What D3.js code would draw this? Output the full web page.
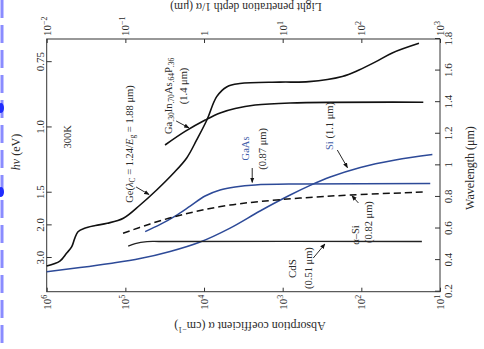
<!DOCTYPE html>
<html>
<head>
<meta charset="utf-8">
<script src="https://cdn.jsdelivr.net/npm/d3@7"></script>
<style>
  body { margin: 0; background: #fff; }
  text { font-family: "Liberation Serif", "DejaVu Serif", serif; fill: #2a2a2a; }
</style>
</head>
<body>
<svg id="chart" width="484" height="349"></svg>
<script>
// wavelength (um) / absorption coefficient (cm^-1)
const geLambda = [0.363, 0.394, 0.443, 0.485, 0.538, 0.580, 0.602, 0.619, 0.633, 0.665, 0.749, 0.844, 0.950, 1.047, 1.161, 1.287, 1.435, 1.498, 1.518, 1.527, 1.530, 1.563, 1.604, 1.655, 1.712, 1.773];
const geAlpha = [1e6, 6.8e5, 5.6e5, 4.8e5, 4.4e5, 4.0e5, 3.3e5, 2.4e5, 1.7e5, 1.06e5, 6.5e4, 4.0e4, 2.45e4, 1.66e4, 1.24e4, 9.2e3, 6.9e3, 5.1e3, 3.5e3, 1.1e3, 465, 175, 107, 66, 40.5, 18.5];

const ingaaspLambda = [1.129, 1.215, 1.287, 1.332, 1.360, 1.382, 1.395, 1.400];
const ingaaspAlpha = [3.13e4, 1.74e4, 9.66e3, 6.24e3, 4.02e3, 2.24e3, 804, 16.3];

const gaasLambda = [0.580, 0.626, 0.679, 0.742, 0.806, 0.844, 0.863, 0.876, 0.882, 0.885];
const gaasAlpha = [5.6e4, 3.6e4, 2.33e4, 1.5e4, 9.7e3, 6.25e3, 4.03e3, 2.24e3, 600, 13.3];

const siLambda = [0.327, 0.353, 0.379, 0.410, 0.455, 0.515, 0.603, 0.711, 0.812, 0.873, 0.926, 0.987, 1.034, 1.069];
const siAlpha = [1e6, 3.77e5, 1.57e5, 6.5e4, 2.7e4, 1.12e4, 4.66e3, 1.94e3, 804, 447, 249, 103, 37, 12.5];

const asiLambda = [0.570, 0.629, 0.676, 0.714, 0.749, 0.771, 0.793, 0.812, 0.831];
const asiAlpha = [1.07e5, 4.85e4, 2.33e4, 1.12e4, 4.66e3, 1.94e3, 600, 139, 16.3];

const cdsLambda = [0.489, 0.505, 0.517, 0.518, 0.518];
const cdsAlpha = [9.2e4, 7.5e4, 5.3e4, 3.6e4, 17];

const wavelengthTicks = [0.2, 0.4, 0.6, 0.8, 1.0, 1.2, 1.4, 1.6, 1.8];
const energyTicks = [0.75, 1.0, 1.5, 2.0, 3.0];
const energyLabels = ['0.75', '1.0', '1.5', '2.0', '3.0'];
const alphaTicks = [1e6, 1e5, 1e4, 1e3, 1e2, 1e1];
const depthTicks = [1e-2, 1e-1, 1, 1e1, 1e2, 1e3];

const BLUE = '#2d4a98';
const svg = d3.select('#chart');

// odd blue dashed strip along the left border of the scan
svg.append('line').attr('x1', 2).attr('x2', 2).attr('y1', 0).attr('y2', 349)
  .attr('stroke', '#8a8cff').attr('stroke-width', 3).attr('stroke-dasharray', '18 7');
[108, 192].forEach(cy => svg.append('ellipse').attr('cx', 1).attr('cy', cy)
  .attr('rx', 3).attr('ry', 5).attr('fill', '#1f2cff'));

// the figure is drawn upright (wavelength across, alpha up) and then turned a quarter anticlockwise
const left = 46.7, bottom = 291.7;
const W = 252.7, H = 393.3;
const g = svg.append('g').attr('transform', `translate(${left},${bottom}) rotate(-90)`);

const x = d3.scaleLinear().domain([0.2, 1.8]).range([0, W]);
const y = d3.scaleLog().domain([10, 1e6]).range([H, 0]);
const yDepth = d3.scaleLog().domain([1e-2, 1e3]).range([0, H]);

svg.append('defs').append('marker')
  .attr('id', 'head').attr('viewBox', '0 0 10 10').attr('refX', 9).attr('refY', 5)
  .attr('markerWidth', 6).attr('markerHeight', 6).attr('orient', 'auto')
  .append('path').attr('d', 'M0,1 L10,5 L0,9 Z').attr('fill', '#111');

function powerLabels(sel) {
  sel.selectAll('.tick text').each(function (d) {
    const t = d3.select(this);
    const e = Math.round(Math.log10(d));
    t.text(null);
    if (e === 0) { t.text('1'); return; }
    t.append('tspan').text('10');
    t.append('tspan').attr('dy', -4).attr('font-size', 8).text(e < 0 ? '\u2212' + (-e) : e);
  });
}

function styleAxis(sel) {
  sel.attr('font-size', 11).attr('font-family', null).attr('color', '#333');
  sel.select('.domain').remove();
}

g.append('g').attr('transform', `translate(0,${H})`)
  .call(d3.axisBottom(x).tickValues(wavelengthTicks).tickSizeInner(-5).tickSizeOuter(0).tickPadding(4)
    .tickFormat(d => d === 1 ? '1' : d.toFixed(1)))
  .call(styleAxis);

// photon energy hv = 1.24 / wavelength
g.append('g')
  .call(d3.axisTop(x).tickValues(energyTicks.map(e => 1.24 / e)).tickSizeInner(-5).tickSizeOuter(0).tickPadding(3)
    .tickFormat((d, i) => energyLabels[i]))
  .call(styleAxis);

g.append('g')
  .call(d3.axisLeft(y).tickValues(alphaTicks).tickSizeInner(-4).tickSizeOuter(0).tickPadding(3))
  .call(styleAxis).call(powerLabels);

g.append('g').attr('transform', `translate(${W},0)`)
  .call(d3.axisRight(yDepth).tickValues(depthTicks).tickSizeInner(-4).tickSizeOuter(0).tickPadding(3))
  .call(styleAxis).call(powerLabels);

g.append('rect').attr('width', W).attr('height', H)
  .attr('fill', 'none').attr('stroke', '#333').attr('stroke-width', 1);

// curves
const line = d3.line().x(d => x(d[0])).y(d => y(d[1])).curve(d3.curveCatmullRom.alpha(0.5));
const curves = [
  { l: geLambda, a: geAlpha, color: '#111', w: 1.6 },
  { l: ingaaspLambda, a: ingaaspAlpha, color: '#111', w: 1.6 },
  { l: gaasLambda, a: gaasAlpha, color: BLUE, w: 1.5 },
  { l: siLambda, a: siAlpha, color: BLUE, w: 1.5 },
  { l: asiLambda, a: asiAlpha, color: '#111', w: 1.5, dash: '7 4' },
  { l: cdsLambda, a: cdsAlpha, color: '#222', w: 1.3 }
];
g.selectAll('path.curve').data(curves).join('path')
  .attr('class', 'curve')
  .attr('d', c => line(c.l.map((v, i) => [v, c.a[i]])))
  .attr('fill', 'none')
  .attr('stroke', c => c.color)
  .attr('stroke-width', c => c.w)
  .attr('stroke-dasharray', c => c.dash || null);

// labels: parts are [text, 'sub' | 'sup' | 'i' | null, colour]
function note(lambda, alpha, parts, size) {
  const fs = size || 11;
  const t = g.append('text').attr('x', x(lambda)).attr('y', y(alpha))
    .attr('text-anchor', 'middle').attr('dominant-baseline', 'central').attr('font-size', fs);
  let shift = 0;
  parts.forEach(p => {
    const [str, kind, col] = p;
    const s = t.append('tspan').text(str);
    let want = 0;
    if (kind === 'sub') { want = fs * 0.3; s.attr('font-size', fs * 0.72); }
    if (kind === 'sup') { want = -fs * 0.35; s.attr('font-size', fs * 0.72); }
    if (kind === 'i') s.attr('font-style', 'italic');
    if (want !== shift) { s.attr('dy', want - shift); shift = want; }
    if (col) s.style('fill', col);
  });
  return t;
}
function arrow(l1, a1, l2, a2) {
  g.append('line').attr('x1', x(l1)).attr('y1', y(a1)).attr('x2', x(l2)).attr('y2', y(a2))
    .attr('stroke', '#111').attr('stroke-width', 0.9).attr('marker-end', 'url(#head)');
}

note(1.18, 5.5e5, [['300K']], 10.5);
note(1.135, 9.0e4, [['Ge('], ['λ', 'i'], ['C', 'sub'], [' = 1.24/'], ['E', 'i'], ['g', 'sub'], [' = 1.88 μm)']], 10.5);
arrow(0.863, 7.3e4, 0.815, 5.0e4);
note(1.44, 2.86e4, [['Ga'], ['.30', 'sub'], ['In'], ['.70', 'sub'], ['As'], ['.64', 'sub'], ['P'], ['.36', 'sub']], 10.5);
note(1.503, 1.85e4, [['(1.4 μm)']], 10.5);
arrow(1.281, 2.26e4, 1.237, 1.55e4);
note(1.107, 3.0e3, [['GaAs', null, '#3f5da8']], 10.5);
note(1.104, 1.82e3, [['(0.87 μm)']], 10.5);
arrow(0.983, 2.44e3, 0.892, 2.44e3);
note(1.249, 256, [['Si', null, '#3f5da8'], [' (1.1 μm)']], 10.5);
arrow(1.097, 202, 0.985, 150);
note(0.559, 120, [['α–Si']], 10.5);
note(0.641, 82, [['(0.82 μm)']], 10.5);
arrow(0.762, 109, 0.808, 132);
note(0.347, 757, [['CdS']], 11);
note(0.350, 474, [['(0.51 μm)']], 10.5);
arrow(0.413, 409, 0.502, 290);

// axis titles
g.append('text').attr('x', 139.7).attr('y', -30.7).attr('text-anchor', 'middle')
  .attr('dominant-baseline', 'central').attr('font-size', 12)
  .call(t => { t.append('tspan').attr('font-style', 'italic').text('hν'); t.append('tspan').text(' (eV)'); });
g.append('text').attr('x', 123.7).attr('y', 423.3).attr('text-anchor', 'middle')
  .attr('dominant-baseline', 'central').attr('font-size', 12).text('Wavelength (μm)');
g.append('text').attr('transform', 'translate(-34.3,203.3) rotate(-90)').attr('text-anchor', 'middle')
  .attr('dominant-baseline', 'central').attr('font-size', 12)
  .call(t => {
    t.append('tspan').text('Absorption coefficient α (cm');
    t.append('tspan').attr('dy', -4).attr('font-size', 8).text('−1');
    t.append('tspan').attr('dy', 4).text(')');
  });
g.append('text').attr('transform', 'translate(285.2,199.3) rotate(-90)').attr('text-anchor', 'middle')
  .attr('dominant-baseline', 'central').attr('font-size', 11.5).text('Light penetration depth 1/α  (μm)');
</script>
</body>
</html>
